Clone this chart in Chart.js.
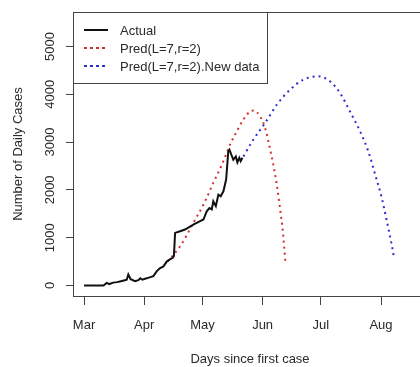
<!DOCTYPE html>
<html>
<head>
<meta charset="utf-8">
<script src="https://cdn.jsdelivr.net/npm/chart.js@4.4.1/dist/chart.umd.min.js"></script>
<style>
  html, body { margin: 0; padding: 0; background: #fff; overflow: hidden; }
  #wrap { width: 440px; height: 367px; }
</style>
</head>
<body>
<div id="wrap"><canvas id="casesChart"></canvas></div>
<script>
// days counted from 1 March
const actualDays = [0, 10, 11.7, 13, 15, 17, 19, 21, 22, 22.8, 24, 26.3, 28, 29, 30, 31.4, 33, 35.7, 37.5, 39, 40.9, 42.6, 44, 45.7, 46.3, 46.9, 49.5, 52, 56.3, 59.8, 61.5, 63.2, 64.6, 65.8, 66.6, 67.9, 69.2, 70.4, 71.8, 73.2, 74.3, 74.9, 76.9, 78.2, 79, 80, 80.7, 81.6];
const actualCases = [0, 0, 55, 30, 60, 70, 90, 110, 120, 230, 130, 90, 110, 150, 120, 140, 160, 195, 300, 360, 400, 500, 540, 580, 620, 1100, 1135, 1170, 1275, 1345, 1380, 1550, 1620, 1590, 1760, 1660, 1900, 1865, 1970, 2215, 2800, 2840, 2630, 2700, 2575, 2670, 2600, 2670];

const predDays = [43, 46, 49.5, 53, 56.3, 61.5, 66.6, 71.8, 75.2, 78.7, 82.1, 85.5, 87.5, 90.7, 93.3, 95.8, 97.5, 99.3, 101, 102.4, 103.8];
const predCases = [500, 640, 820, 1060, 1310, 1690, 2145, 2600, 2945, 3225, 3470, 3640, 3660, 3535, 3290, 2860, 2530, 2110, 1600, 1135, 450];

const newDays = [82.1, 87.2, 93.3, 99.3, 106.1, 113, 120.7, 126.7, 131.9, 137, 142.2, 146.5, 150, 153.4, 156, 158.5, 159.7];
const newCases = [2700, 3050, 3400, 3780, 4095, 4305, 4375, 4270, 4025, 3640, 3225, 2800, 2320, 1830, 1345, 855, 580];

const monthDays = [0, 31, 61, 92, 122, 153];
const monthLabels = ['Mar', 'Apr', 'May', 'Jun', 'Jul', 'Aug'];
const yTicks = [0, 1000, 2000, 3000, 4000, 5000];

const seriesNames = ['Actual', 'Pred(L=7,r=2)', 'Pred(L=7,r=2).New data'];
const RED = 'rgb(212,50,50)';
const BLUE = 'rgb(45,45,200)';
const FONT = '"Liberation Sans", Arial, Helvetica, sans-serif';
const TXT = '#2a2a2a';
const DOTS = [2, 4];

function pts(xs, ys) { return xs.map((x, i) => ({ x: x, y: ys[i] })); }

// R style box, rotated y labels and legend
const rDecor = {
  id: 'rDecor',
  afterDraw(chart) {
    const ctx = chart.ctx;
    const a = chart.chartArea;
    const y = chart.scales.y;
    ctx.save();
    ctx.strokeStyle = '#444';
    ctx.lineWidth = 1;
    ctx.strokeRect(a.left + 0.5, a.top + 0.5, a.right - a.left, a.bottom - a.top);

    ctx.fillStyle = TXT;
    ctx.font = '13px ' + FONT;
    ctx.textAlign = 'center';
    ctx.textBaseline = 'middle';
    yTicks.forEach(v => {
      ctx.save();
      ctx.translate(50, y.getPixelForValue(v));
      ctx.rotate(-Math.PI / 2);
      ctx.fillText(String(v), 0, 0);
      ctx.restore();
    });

    // legend
    const lx = a.left, ly = a.top, lw = 194, lh = 71;
    ctx.fillStyle = '#fff';
    ctx.fillRect(lx, ly, lw, lh);
    ctx.strokeStyle = '#444';
    ctx.strokeRect(lx + 0.5, ly + 0.5, lw, lh);
    const colors = ['#111', RED, BLUE];
    ctx.textAlign = 'left';
    seriesNames.forEach((name, i) => {
      const cy = ly + 18 + i * 18;
      ctx.beginPath();
      ctx.strokeStyle = colors[i];
      ctx.lineWidth = 2;
      ctx.setLineDash(i === 0 ? [] : [3, 3]);
      ctx.moveTo(lx + 11, cy);
      ctx.lineTo(lx + 35, cy);
      ctx.stroke();
      ctx.setLineDash([]);
      ctx.fillStyle = TXT;
      ctx.fillText(name, lx + 47, cy + 1);
    });
    ctx.restore();
  }
};

new Chart(document.getElementById('casesChart'), {
  type: 'line',
  data: {
    datasets: [
      { label: seriesNames[0], data: pts(actualDays, actualCases), borderColor: '#111', borderWidth: 2, pointRadius: 0, tension: 0 },
      { label: seriesNames[1], data: pts(predDays, predCases), borderColor: RED, borderWidth: 2, borderDash: DOTS, pointRadius: 0, cubicInterpolationMode: 'monotone' },
      { label: seriesNames[2], data: pts(newDays, newCases), borderColor: BLUE, borderWidth: 2, borderDash: DOTS, pointRadius: 0, cubicInterpolationMode: 'monotone' }
    ]
  },
  options: {
    responsive: true,
    maintainAspectRatio: false,
    animation: false,
    layout: { padding: { left: 0, top: 12, right: 13, bottom: 0 } },
    plugins: { legend: { display: false }, tooltip: { enabled: false } },
    scales: {
      x: {
        type: 'linear',
        min: -5.7,
        max: 176.7,
        afterBuildTicks: s => { s.ticks = monthDays.map(v => ({ value: v })); },
        afterFit: s => { s.height = 71; },
        grid: { drawOnChartArea: false, drawTicks: true, tickLength: 9, tickColor: '#444' },
        border: { display: true, color: '#444' },
        ticks: {
          padding: 13,
          color: TXT,
          font: { size: 13, family: FONT },
          maxRotation: 0,
          autoSkip: false,
          callback: v => monthLabels[monthDays.indexOf(v)]
        },
        title: { display: true, text: 'Days since first case', color: TXT, font: { size: 13, family: FONT }, padding: { top: 0, bottom: 0 } }
      },
      y: {
        min: -220,
        max: 5720,
        afterBuildTicks: s => { s.ticks = yTicks.map(v => ({ value: v })); },
        afterFit: s => { s.width = 73; },
        grid: { drawOnChartArea: false, drawTicks: true, tickLength: 7, tickColor: '#444' },
        border: { display: true, color: '#444' },
        ticks: { display: false },
        title: { display: true, text: 'Number of Daily Cases', color: TXT, font: { size: 13, family: FONT }, padding: { top: 11, bottom: 0 } }
      }
    }
  },
  plugins: [rDecor]
});
</script>
</body>
</html>
